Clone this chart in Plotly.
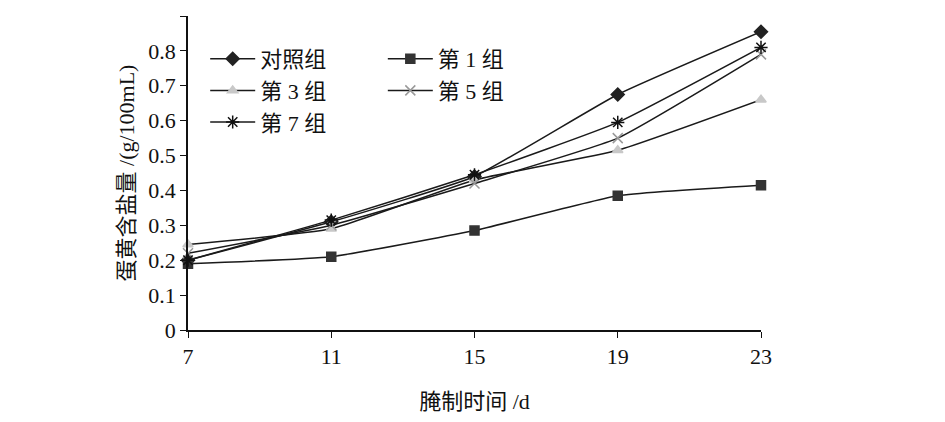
import plotly.graph_objects as go

days = [7, 11, 15, 19, 23]
control = [0.20, 0.31, 0.44, 0.675, 0.855]
g1 = [0.19, 0.21, 0.285, 0.385, 0.415]
g3 = [0.245, 0.29, 0.43, 0.515, 0.66]
g5 = [0.22, 0.30, 0.42, 0.55, 0.79]
g7 = [0.20, 0.315, 0.445, 0.595, 0.81]

FONT = "Liberation Serif, Noto Sans CJK SC"

series = [
    ("对照组", control, "diamond", "#222222", 10, "legend"),
    ("第 1 组", g1, "square", "#333333", 9, "legend2"),
    ("第 3 组", g3, "triangle-up", "#c8c8c8", 9, "legend"),
    ("第 5 组", g5, "x-thin-open", "#999999", 10, "legend2"),
    ("第 7 组", g7, "asterisk-open", "#111111", 11, "legend"),
]

fig = go.Figure()
for name, vals, sym, col, sz, lg in series:
    fig.add_trace(go.Scatter(
        x=days, y=vals, mode="lines+markers", name=name, legend=lg,
        line=dict(color="#1a1a1a", width=1.5, shape="spline", smoothing=0.4),
        marker=dict(symbol=sym, color=col, size=sz, line=dict(color=col, width=1.5)),
        cliponaxis=False,
    ))

legend_style = dict(font=dict(family=FONT, size=22, color="#111"), bgcolor="rgba(0,0,0,0)",
                    xanchor="left", yanchor="top", tracegroupgap=0, itemwidth=45)

fig.update_layout(
    width=945, height=422,
    paper_bgcolor="white", plot_bgcolor="white",
    margin=dict(l=180, r=192, t=8, b=100, autoexpand=False),
    font=dict(family=FONT, size=22, color="#111"),
    xaxis=dict(
        range=[7, 23], tickvals=days, showline=True, linecolor="#111", linewidth=1.5,
        ticks="outside", ticklen=6, tickcolor="#111", showgrid=False, zeroline=False,
        title=dict(text="腌制时间 /d", font=dict(size=22), standoff=25),
    ),
    yaxis=dict(
        range=[0, 0.9], dtick=0.1, tickformat="~g", showline=True, linecolor="#111",
        linewidth=1.5, ticks="outside", ticklen=6, tickcolor="#111", showgrid=False,
        zeroline=False, title=dict(text="蛋黄含盐量 /(g/100mL)", font=dict(size=22), standoff=8),
    ),
    legend=dict(x=0.03, y=0.93, **legend_style),
    legend2=dict(x=0.34, y=0.93, **legend_style),
)

fig.write_html("out.html")
